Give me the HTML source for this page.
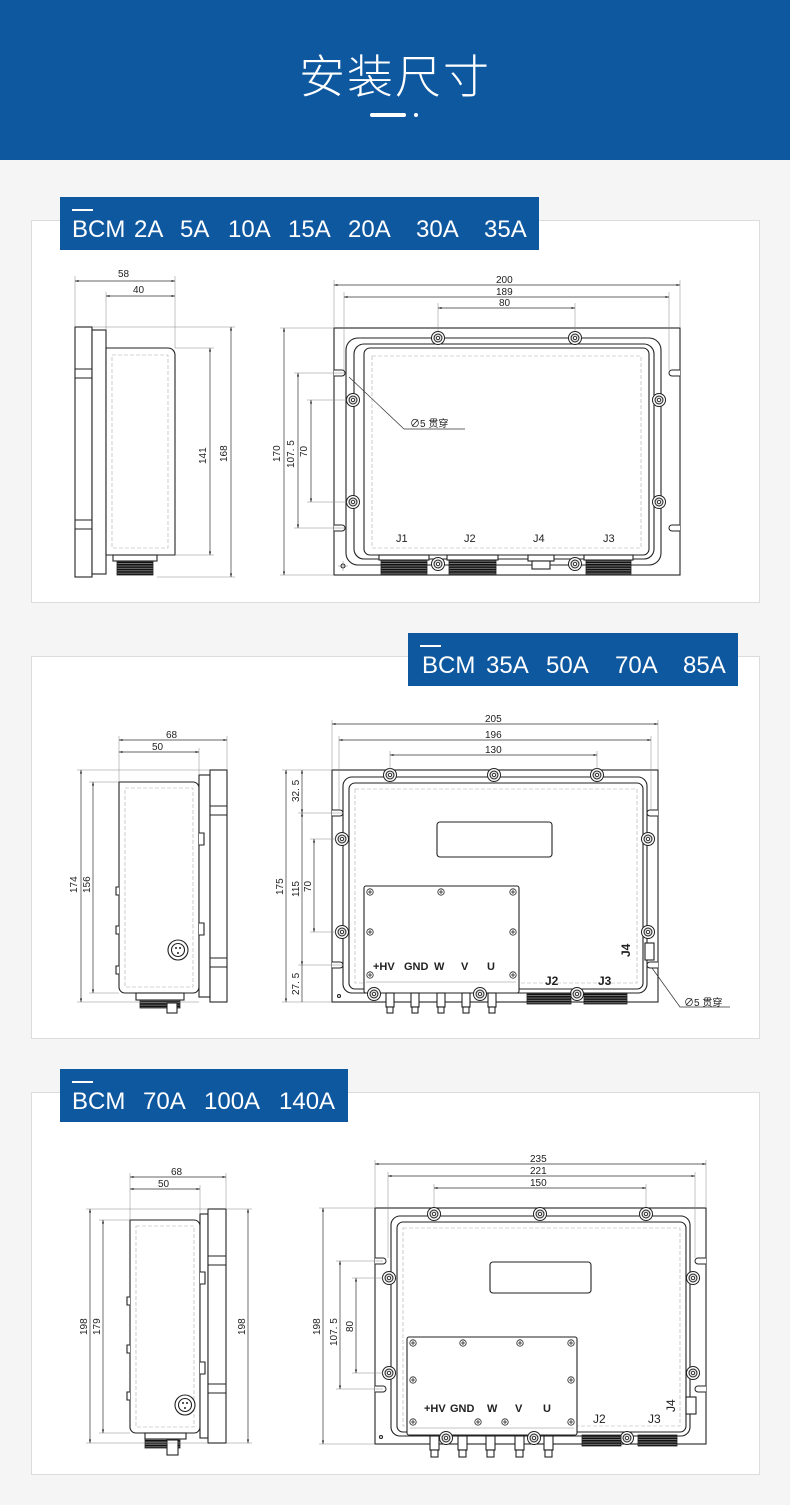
<!DOCTYPE html>
<html><head><meta charset="utf-8">
<style>
html,body{margin:0;padding:0;}
body{width:790px;height:1505px;background:#f5f5f5;position:relative;overflow:hidden;font-family:"Liberation Sans","Noto Sans CJK SC",sans-serif;}
.hdr{position:absolute;left:0;top:0;width:790px;height:160px;background:#0e58a0;}
.title{position:absolute;left:0;width:790px;top:44px;text-align:center;color:#fff;font-size:46px;font-weight:300;letter-spacing:2px;font-family:"Noto Sans CJK SC","WenQuanYi Zen Hei",sans-serif;line-height:60px;}
.bar{position:absolute;left:370px;top:113px;width:36px;height:4px;border-radius:2px;background:#fff;}
.dot{position:absolute;left:414px;top:113px;width:4px;height:4px;border-radius:2px;background:#fff;}
.panel{position:absolute;left:31px;width:727px;height:381px;background:#fff;border:1px solid #dcdcdc;}
.lab{position:absolute;height:53px;background:#0e58a0;color:#fff;font-size:24px;line-height:24px;white-space:pre;}
.lab span{position:absolute;top:21px;}
.lab i{position:absolute;left:12px;top:12px;width:21px;height:2px;background:#fff;}
svg{position:absolute;left:0;top:0;}
.o{fill:none;stroke:#222;stroke-width:1.1}
.of{fill:#fff;stroke:#222;stroke-width:1.1}
.d{stroke:#333;stroke-width:.7;fill:none}
.e{stroke:#888;stroke-width:.5;fill:none}
.dash{fill:none;stroke:#aaa;stroke-width:.6;stroke-dasharray:4 2}
text{font-family:"Liberation Sans","Noto Sans CJK SC",sans-serif;font-size:10px;fill:#222}
.b{font-weight:bold;font-size:11px}
</style></head><body>
<div class="hdr"></div>
<div class="title">安装尺寸</div>
<div class="bar"></div><div class="dot"></div>

<div class="panel" style="top:220px"></div>
<div class="panel" style="top:656px"></div>
<div class="panel" style="top:1092px"></div>

<div class="lab" style="left:60px;top:197px;width:479px"><i></i><span style="left:12px">BCM</span><span style="left:74px">2A</span><span style="left:120px">5A</span><span style="left:168px">10A</span><span style="left:228px">15A</span><span style="left:288px">20A</span><span style="left:356px">30A</span><span style="left:424px">35A</span></div>
<div class="lab" style="left:408px;top:633px;width:330px"><i></i><span style="left:14px">BCM</span><span style="left:78px">35A</span><span style="left:138px">50A</span><span style="left:207px">70A</span><span style="left:275px">85A</span></div>
<div class="lab" style="left:60px;top:1069px;width:288px"><i></i><span style="left:12px">BCM</span><span style="left:83px">70A</span><span style="left:144px">100A</span><span style="left:219px">140A</span></div>

<svg width="790" height="1505" viewBox="0 0 790 1505">
<defs>
<marker id="a" viewBox="0 0 10 10" refX="10" refY="5" markerWidth="7" markerHeight="5" orient="auto-start-reverse"><path d="M0,2 L10,5 L0,8z" fill="#222"/></marker>
<pattern id="thr" width="4" height="2.4" patternUnits="userSpaceOnUse"><rect width="4" height="2.4" fill="#888"/><rect width="4" height="1.6" fill="#111"/></pattern>
<g id="sc"><circle r="6.5" fill="#fff" stroke="#222" stroke-width="1"/><circle r="4" fill="#ddd" stroke="#222" stroke-width="1"/><circle r="1.6" fill="#fff" stroke="#222" stroke-width=".8"/></g>
<g id="ss"><circle r="3.2" fill="#fff" stroke="#222" stroke-width=".8"/><path d="M-2,0h4M0,-2v4" stroke="#222" stroke-width=".8"/></g>
</defs>

<!-- ===== PANEL 1 side ===== -->
<rect x="75" y="327" width="17" height="250" class="of"/>
<rect x="92" y="330" width="14" height="244" class="of"/>
<path d="M75,369h17M75,378h17M75,520h17M75,529h17" class="o"/>
<path d="M106,348H168a7,7 0 0 1 7,7V555H106z" class="of"/>
<rect x="112" y="355" width="56" height="193" class="dash"/>
<rect x="113" y="555" width="44" height="6" class="of"/>
<rect x="117" y="561" width="36" height="14" fill="url(#thr)" stroke="#222" stroke-width=".8"/>
<path d="M75,327V276M175,348V276M106,330V292" class="e"/>
<line x1="75" y1="281" x2="175" y2="281" class="d" marker-start="url(#a)" marker-end="url(#a)"/>
<text x="118" y="277">58</text>
<line x1="106" y1="296" x2="175" y2="296" class="d" marker-start="url(#a)" marker-end="url(#a)"/>
<text x="133" y="293">40</text>
<path d="M175,348H214M175,555H214M92,327H235M157,577H235" class="e"/>
<line x1="210" y1="348" x2="210" y2="555" class="d" marker-start="url(#a)" marker-end="url(#a)"/>
<text transform="translate(206,464) rotate(-90)">141</text>
<line x1="231" y1="327" x2="231" y2="577" class="d" marker-start="url(#a)" marker-end="url(#a)"/>
<text transform="translate(227,462) rotate(-90)">168</text>

<!-- ===== PANEL 1 front ===== -->
<rect x="334" y="328" width="346" height="247" class="of"/>
<path d="M334,370h8a3,3 0 0 1 0,6h-8M334,525h8a3,3 0 0 1 0,6h-8M680,370h-8a3,3 0 0 0 0,6h8M680,525h-8a3,3 0 0 0 0,6h8" fill="#fff" stroke="#222" stroke-width="1"/>
<rect x="346" y="338" width="315" height="227" rx="12" class="of"/>
<rect x="354" y="344" width="300" height="215" rx="10" class="o"/>
<rect x="364" y="348" width="285" height="207" rx="6" class="o"/>
<rect x="372" y="356" width="269" height="192" class="dash"/>
<use href="#sc" x="438" y="338"/><use href="#sc" x="575" y="338"/>
<use href="#sc" x="353" y="400"/><use href="#sc" x="353" y="502"/>
<use href="#sc" x="659" y="400"/><use href="#sc" x="659" y="502"/>
<rect x="379" y="555" width="50" height="5" class="of"/>
<rect x="381" y="560" width="46" height="14" fill="url(#thr)" stroke="#222" stroke-width=".8"/>
<rect x="447" y="555" width="51" height="5" class="of"/>
<rect x="449" y="560" width="47" height="14" fill="url(#thr)" stroke="#222" stroke-width=".8"/>
<rect x="584" y="555" width="49" height="5" class="of"/>
<rect x="586" y="560" width="45" height="14" fill="url(#thr)" stroke="#222" stroke-width=".8"/>
<rect x="528" y="555" width="26" height="6" class="of"/><rect x="532" y="561" width="18" height="8" class="of"/>
<use href="#sc" x="438" y="564"/><use href="#sc" x="575" y="564"/>
<circle cx="343" cy="566" r="2" class="o"/><path d="M338,566h10M343,561v10" class="e"/>
<text x="396" y="542" style="font-size:11px">J1</text>
<text x="464" y="542" style="font-size:11px">J2</text>
<text x="533" y="542" style="font-size:11px">J4</text>
<text x="603" y="542" style="font-size:11px">J3</text>
<path d="M334,328V280M680,328V280M344,370V292M669,370V292M438,331V303M575,331V303" class="e"/>
<line x1="334" y1="285" x2="680" y2="285" class="d" marker-start="url(#a)" marker-end="url(#a)"/>
<text x="496" y="283">200</text>
<line x1="344" y1="297" x2="669" y2="297" class="d" marker-start="url(#a)" marker-end="url(#a)"/>
<text x="496" y="295">189</text>
<line x1="438" y1="308" x2="575" y2="308" class="d" marker-start="url(#a)" marker-end="url(#a)"/>
<text x="499" y="306">80</text>
<path d="M334,328H280M334,575H280M344,373H294M344,528H294M347,400H307M347,502H307" class="e"/>
<line x1="284" y1="328" x2="284" y2="575" class="d" marker-start="url(#a)" marker-end="url(#a)"/>
<text transform="translate(280,462) rotate(-90)">170</text>
<line x1="298" y1="373" x2="298" y2="528" class="d" marker-start="url(#a)" marker-end="url(#a)"/>
<text transform="translate(294,468) rotate(-90)">107. 5</text>
<line x1="311" y1="400" x2="311" y2="502" class="d" marker-start="url(#a)" marker-end="url(#a)"/>
<text transform="translate(307,457) rotate(-90)">70</text>
<path d="M349,377L404,429H465" class="d"/>
<text x="410" y="427">∅5  贯穿</text>

<!-- ===== PANEL 2 side ===== -->
<path d="M119,782H193a6,6 0 0 1 6,6V987a6,6 0 0 1-6,6H125a6,6 0 0 1-6-6z" class="of"/>
<rect x="125" y="788" width="68" height="199" class="dash"/>
<rect x="199" y="775" width="11" height="222" class="of"/>
<rect x="210" y="770" width="17" height="232" class="of"/>
<path d="M210,806h17M210,815h17M210,958h17M210,967h17" class="o"/>
<path d="M199,833h5v12h-5M199,923h5v12h-5M119,887h-3v8h3M119,926h-3v8h3M119,966h-3v8h3" class="of"/>
<circle cx="178" cy="950" r="10" class="of"/><circle cx="178" cy="950" r="6.5" class="o"/>
<circle cx="176" cy="948" r="1" fill="#222"/><circle cx="180" cy="948" r="1" fill="#222"/><circle cx="178" cy="953" r="1" fill="#222"/>
<rect x="136" y="993" width="48" height="7" class="of"/>
<rect x="140" y="1000" width="40" height="8" fill="url(#thr)" stroke="#222" stroke-width=".8"/>
<rect x="167" y="1003" width="10" height="10" class="of"/>
<path d="M119,782V736M227,770V736M199,775V748" class="e"/>
<line x1="119" y1="740" x2="227" y2="740" class="d" marker-start="url(#a)" marker-end="url(#a)"/>
<text x="166" y="738">68</text>
<line x1="119" y1="752" x2="199" y2="752" class="d" marker-start="url(#a)" marker-end="url(#a)"/>
<text x="152" y="750">50</text>
<path d="M210,770H77M119,782H89M119,993H89M199,1002H77" class="e"/>
<line x1="81" y1="770" x2="81" y2="1002" class="d" marker-start="url(#a)" marker-end="url(#a)"/>
<text transform="translate(77,893) rotate(-90)">174</text>
<line x1="93" y1="782" x2="93" y2="993" class="d" marker-start="url(#a)" marker-end="url(#a)"/>
<text transform="translate(90,893) rotate(-90)">156</text>

<!-- ===== PANEL 2 front ===== -->
<rect x="332" y="770" width="326" height="232" class="of"/>
<path d="M332,810h8a3,3 0 0 1 0,6h-8M332,962h8a3,3 0 0 1 0,6h-8M658,810h-8a3,3 0 0 0 0,6h8M658,962h-8a3,3 0 0 0 0,6h8" fill="#fff" stroke="#222" stroke-width="1"/>
<rect x="343" y="777" width="304" height="216" rx="9" class="of"/>
<rect x="349" y="783" width="294" height="206" rx="6" class="o"/>
<rect x="355" y="789" width="282" height="194" class="dash"/>
<use href="#sc" x="390" y="775"/><use href="#sc" x="494" y="775"/><use href="#sc" x="597" y="775"/>
<use href="#sc" x="342" y="839"/><use href="#sc" x="342" y="932"/>
<use href="#sc" x="648" y="839"/><use href="#sc" x="648" y="932"/>
<rect x="437" y="822" width="115" height="35" rx="3" class="of"/>
<rect x="364" y="886" width="155" height="107" rx="2" class="of"/>
<use href="#ss" x="370" y="892"/><use href="#ss" x="441" y="892"/><use href="#ss" x="513" y="892"/>
<use href="#ss" x="370" y="932"/><use href="#ss" x="513" y="932"/>
<use href="#ss" x="370" y="975"/><use href="#ss" x="513" y="975"/>
<text x="373" y="970" class="b">+HV</text><text x="404" y="970" class="b">GND</text>
<text x="434" y="970" class="b">W</text><text x="461" y="970" class="b">V</text><text x="487" y="970" class="b">U</text>
<path d="M366,982h150" class="e"/>
<g class="of">
<rect x="386" y="993" width="8" height="14"/><rect x="387" y="1007" width="6" height="6"/>
<rect x="411" y="993" width="8" height="14"/><rect x="412" y="1007" width="6" height="6"/>
<rect x="437" y="993" width="8" height="14"/><rect x="438" y="1007" width="6" height="6"/>
<rect x="462" y="993" width="8" height="14"/><rect x="463" y="1007" width="6" height="6"/>
<rect x="488" y="993" width="8" height="14"/><rect x="489" y="1007" width="6" height="6"/>
</g>
<use href="#sc" x="374" y="994"/><use href="#sc" x="480" y="994"/><use href="#sc" x="577" y="994"/>
<rect x="527" y="993" width="44" height="11" fill="url(#thr)" stroke="#222" stroke-width=".8"/>
<rect x="584" y="993" width="43" height="11" fill="url(#thr)" stroke="#222" stroke-width=".8"/>
<text x="545" y="985" class="b" style="font-size:12px">J2</text>
<text x="598" y="985" class="b" style="font-size:12px">J3</text>
<text transform="translate(630,957) rotate(-90)" class="b" style="font-size:12px">J4</text>
<rect x="645" y="943" width="9" height="17" class="of"/>
<circle cx="339" cy="996" r="1.5" class="o"/>
<path d="M332,770V720M658,770V720M339,810V736M651,810V736M390,769V751M597,769V751" class="e"/>
<line x1="332" y1="724" x2="658" y2="724" class="d" marker-start="url(#a)" marker-end="url(#a)"/>
<text x="485" y="722">205</text>
<line x1="339" y1="740" x2="651" y2="740" class="d" marker-start="url(#a)" marker-end="url(#a)"/>
<text x="485" y="738">196</text>
<line x1="390" y1="755" x2="597" y2="755" class="d" marker-start="url(#a)" marker-end="url(#a)"/>
<text x="485" y="753">130</text>
<path d="M332,770H282M342,813H298M342,965H298M332,1002H282M336,839H310M336,932H310" class="e"/>
<line x1="286" y1="770" x2="286" y2="1002" class="d" marker-start="url(#a)" marker-end="url(#a)"/>
<text transform="translate(283,895) rotate(-90)">175</text>
<line x1="302" y1="770" x2="302" y2="813" class="d" marker-start="url(#a)" marker-end="url(#a)"/>
<text transform="translate(299,802) rotate(-90)">32. 5</text>
<line x1="302" y1="813" x2="302" y2="965" class="d" marker-start="url(#a)" marker-end="url(#a)"/>
<text transform="translate(299,897) rotate(-90)">115</text>
<line x1="302" y1="965" x2="302" y2="1002" class="d"/>
<text transform="translate(299,995) rotate(-90)">27. 5</text>
<line x1="314" y1="839" x2="314" y2="932" class="d" marker-start="url(#a)" marker-end="url(#a)"/>
<text transform="translate(311,892) rotate(-90)">70</text>
<path d="M652,968L680,1007H730" class="d"/>
<text x="684" y="1006">∅5  贯穿</text>

<!-- ===== PANEL 3 side ===== -->
<path d="M130,1220H194a6,6 0 0 1 6,6V1427a6,6 0 0 1-6,6H136a6,6 0 0 1-6-6z" class="of"/>
<rect x="136" y="1226" width="58" height="201" class="dash"/>
<rect x="200" y="1214" width="8" height="224" class="of"/>
<rect x="208" y="1209" width="18" height="234" class="of"/>
<path d="M208,1256h18M208,1265h18M208,1384h18M208,1393h18" class="o"/>
<path d="M200,1272h5v12h-5M200,1362h5v12h-5M130,1297h-3v8h3M130,1345h-3v8h3M130,1392h-3v8h3" class="of"/>
<circle cx="185" cy="1405" r="10" class="of"/><circle cx="185" cy="1405" r="6.5" class="o"/>
<circle cx="183" cy="1403" r="1" fill="#222"/><circle cx="187" cy="1403" r="1" fill="#222"/><circle cx="185" cy="1408" r="1" fill="#222"/>
<rect x="145" y="1433" width="41" height="6" class="of"/>
<rect x="145" y="1439" width="35" height="9" fill="url(#thr)" stroke="#222" stroke-width=".8"/>
<rect x="167" y="1440" width="11" height="15" class="of"/>
<path d="M130,1220V1173M226,1209V1173M200,1214V1185" class="e"/>
<line x1="130" y1="1177" x2="226" y2="1177" class="d" marker-start="url(#a)" marker-end="url(#a)"/>
<text x="171" y="1175">68</text>
<line x1="130" y1="1189" x2="200" y2="1189" class="d" marker-start="url(#a)" marker-end="url(#a)"/>
<text x="158" y="1187">50</text>
<path d="M208,1209H86M130,1220H99M130,1433H99M208,1443H86M226,1209H252M226,1443H252" class="e"/>
<line x1="90" y1="1209" x2="90" y2="1443" class="d" marker-start="url(#a)" marker-end="url(#a)"/>
<text transform="translate(87,1335) rotate(-90)">198</text>
<line x1="103" y1="1220" x2="103" y2="1433" class="d" marker-start="url(#a)" marker-end="url(#a)"/>
<text transform="translate(100,1335) rotate(-90)">179</text>
<line x1="248" y1="1209" x2="248" y2="1443" class="d" marker-start="url(#a)" marker-end="url(#a)"/>
<text transform="translate(245,1335) rotate(-90)">198</text>

<!-- ===== PANEL 3 front ===== -->
<rect x="375" y="1208" width="331" height="236" class="of"/>
<path d="M375,1258h8a3,3 0 0 1 0,6h-8M375,1386h8a3,3 0 0 1 0,6h-8M706,1258h-8a3,3 0 0 0 0,6h8M706,1386h-8a3,3 0 0 0 0,6h8" fill="#fff" stroke="#222" stroke-width="1"/>
<rect x="391" y="1216" width="299" height="220" rx="9" class="of"/>
<rect x="397" y="1222" width="289" height="210" rx="6" class="o"/>
<rect x="403" y="1228" width="277" height="198" class="dash"/>
<use href="#sc" x="434" y="1214"/><use href="#sc" x="540" y="1214"/><use href="#sc" x="646" y="1214"/>
<use href="#sc" x="389" y="1278"/><use href="#sc" x="389" y="1373"/>
<use href="#sc" x="693" y="1278"/><use href="#sc" x="693" y="1373"/>
<rect x="490" y="1262" width="101" height="31" rx="3" class="of"/>
<rect x="407" y="1337" width="170" height="98" rx="2" class="of"/>
<use href="#ss" x="413" y="1343"/><use href="#ss" x="463" y="1343"/><use href="#ss" x="520" y="1343"/><use href="#ss" x="571" y="1343"/>
<use href="#ss" x="413" y="1380"/><use href="#ss" x="571" y="1380"/>
<use href="#ss" x="413" y="1422"/><use href="#ss" x="478" y="1422"/><use href="#ss" x="505" y="1422"/><use href="#ss" x="571" y="1422"/>
<text x="424" y="1412" class="b">+HV</text><text x="450" y="1412" class="b">GND</text>
<text x="487" y="1412" class="b">W</text><text x="515" y="1412" class="b">V</text><text x="543" y="1412" class="b">U</text>
<path d="M410,1428h164" class="e"/>
<g class="of">
<rect x="430" y="1436" width="9" height="14"/><rect x="431" y="1450" width="7" height="7"/>
<rect x="458" y="1436" width="9" height="14"/><rect x="459" y="1450" width="7" height="7"/>
<rect x="486" y="1436" width="9" height="14"/><rect x="487" y="1450" width="7" height="7"/>
<rect x="515" y="1436" width="9" height="14"/><rect x="516" y="1450" width="7" height="7"/>
<rect x="544" y="1436" width="9" height="14"/><rect x="545" y="1450" width="7" height="7"/>
</g>
<use href="#sc" x="446" y="1438"/><use href="#sc" x="534" y="1438"/><use href="#sc" x="627" y="1438"/>
<rect x="582" y="1435" width="39" height="11" fill="url(#thr)" stroke="#222" stroke-width=".8"/>
<rect x="638" y="1435" width="39" height="11" fill="url(#thr)" stroke="#222" stroke-width=".8"/>
<text x="593" y="1423" style="font-size:12px">J2</text>
<text x="648" y="1423" style="font-size:12px">J3</text>
<text transform="translate(675,1412) rotate(-90)" style="font-size:12px">J4</text>
<rect x="686" y="1397" width="10" height="17" class="of"/>
<circle cx="381" cy="1437" r="1.5" class="o"/>
<path d="M375,1208V1160M706,1208V1160M388,1258V1172M695,1258V1172M434,1207V1184M646,1207V1184" class="e"/>
<line x1="375" y1="1164" x2="706" y2="1164" class="d" marker-start="url(#a)" marker-end="url(#a)"/>
<text x="530" y="1162">235</text>
<line x1="388" y1="1176" x2="695" y2="1176" class="d" marker-start="url(#a)" marker-end="url(#a)"/>
<text x="530" y="1174">221</text>
<line x1="434" y1="1188" x2="646" y2="1188" class="d" marker-start="url(#a)" marker-end="url(#a)"/>
<text x="530" y="1186">150</text>
<path d="M375,1208H319M375,1444H319M383,1261H336M383,1389H336M383,1278H352M383,1373H352" class="e"/>
<line x1="323" y1="1208" x2="323" y2="1444" class="d" marker-start="url(#a)" marker-end="url(#a)"/>
<text transform="translate(320,1335) rotate(-90)">198</text>
<line x1="340" y1="1261" x2="340" y2="1389" class="d" marker-start="url(#a)" marker-end="url(#a)"/>
<text transform="translate(337,1346) rotate(-90)">107. 5</text>
<line x1="356" y1="1278" x2="356" y2="1373" class="d" marker-start="url(#a)" marker-end="url(#a)"/>
<text transform="translate(353,1332) rotate(-90)">80</text>
</svg>
</body></html>
